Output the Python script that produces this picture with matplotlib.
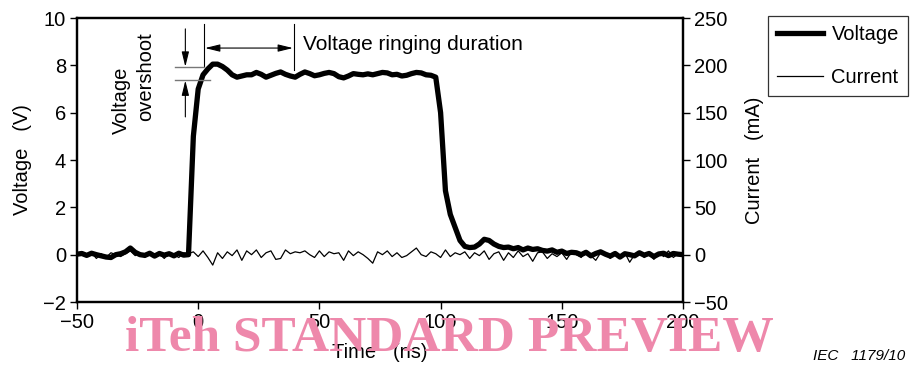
import numpy as np
import matplotlib
matplotlib.use("Agg")
import matplotlib.pyplot as plt

plt.rcParams['font.family'] = ['Liberation Sans', 'DejaVu Sans']

# time axis (ns), 2 ns steps
time_ns = np.arange(-50, 201, 2)

# Voltage (V)
voltage = [
    0.02, 0.05, -0.03, 0.06, 0.0, -0.05, -0.1, -0.12, 0.0, 0.04,      # -50 .. -32
    0.12, 0.28, 0.1, 0.0, -0.03, 0.06, -0.06, 0.05, -0.02, 0.04,      # -30 .. -12
    -0.05, 0.06, -0.02, 0.0, 5.0, 7.0, 7.6, 7.85, 8.05, 8.05,         # -10 .. 8
    7.95, 7.8, 7.6, 7.5, 7.55, 7.6, 7.6, 7.7, 7.62, 7.5,              # 10 .. 28
    7.58, 7.66, 7.72, 7.62, 7.55, 7.5, 7.62, 7.72, 7.65, 7.56,        # 30 .. 48
    7.6, 7.66, 7.7, 7.65, 7.52, 7.47, 7.55, 7.65, 7.62, 7.6,          # 50 .. 68
    7.64, 7.6, 7.65, 7.7, 7.68, 7.6, 7.62, 7.55, 7.58, 7.65,          # 70 .. 88
    7.7, 7.68, 7.6, 7.58, 7.5, 6.0, 2.7, 1.7, 1.15, 0.6,              # 90 .. 108
    0.35, 0.3, 0.32, 0.45, 0.65, 0.6, 0.45, 0.35, 0.3, 0.32,          # 110 .. 128
    0.25, 0.3, 0.2, 0.28, 0.22, 0.25, 0.18, 0.15, 0.2, 0.1,           # 130 .. 148
    0.15, 0.05, 0.1, 0.08, 0.0, 0.1, -0.05, 0.05, 0.12, 0.02,         # 150 .. 168
    -0.06, 0.05, -0.1, 0.04, 0.0, -0.05, 0.08, -0.02, 0.05, -0.08,    # 170 .. 188
    0.03, 0.06, -0.04, 0.05, 0.02, 0.0,                               # 190 .. 200
]

# Current (mA)
current = [
    0, 3, -2, 2, -4, 1, -3, 2, 0, -2,
    1, 4, -1, 2, -3, 3, -2, 1, -4, 2,
    0, -3, 2, 1, 3, -2, 4, -3, -11, 2,
    -4, 3, -1, 5, -6, 4, 0, 5, -3, 2,
    4, -5, -4, 5, 1, 3, 2, 4, 0, -3,
    4, -2, 3, 1, 2, -6, 4, -1, 3, 0,
    -4, -9, 3, 0, 4, -2, 2, -3, -1, 3,
    7, 0, -2, 3, 1, -3, 5, -2, 2, 0,
    3, -4, 2, -1, 4, -5, 1, 3, -6, 2,
    -3, 4, -2, 1, -7, 2, 3, -4, 1, -2,
    2, -5, 3, 0, -3, 4, -1, -6, 2, 1,
    -4, 3, -2, 2, -8, 0, 3, -3, 1, -5,
    2, -2, 4, -3, 1, 0,
]

x_ticks = [-50, 0, 50, 100, 150, 200]
v_ticks = [-2, 0, 2, 4, 6, 8, 10]
i_ticks = [-50, 0, 50, 100, 150, 200, 250]

fig = plt.figure(figsize=(9.17, 3.65), dpi=100)
ax = fig.add_axes([77 / 917, 63 / 365, 606 / 917, 284 / 365])
ax2 = ax.twinx()
ax.set_zorder(ax2.get_zorder() + 1)
ax.patch.set_visible(False)

fs = 14.5
lv, = ax.plot(time_ns, voltage, color='black', lw=3.8, solid_joinstyle='round')
li, = ax2.plot(time_ns, current, color='black', lw=0.9)

ax.set_xlim(-50, 200)
ax.set_ylim(-2, 10)
ax2.set_ylim(-50, 250)
ax.set_xticks(x_ticks)
ax.set_yticks(v_ticks)
ax2.set_yticks(i_ticks)

for a in (ax, ax2):
    for s in a.spines.values():
        s.set_linewidth(1.6)
    a.tick_params(direction='out', length=5, width=1, labelsize=fs, pad=3)

ax.set_xlabel('Time   (ns)', fontsize=fs, labelpad=8)
ax.set_ylabel('Voltage   (V)', fontsize=fs, labelpad=8)
ax2.set_ylabel('Current   (mA)', fontsize=fs, labelpad=12)

# annotations
ax.plot([2.4, 2.4], [9.75, 7.97], color='black', lw=0.8)
ax.plot([39.5, 39.5], [9.75, 7.8], color='black', lw=0.8)
ax.annotate('', xy=(2.8, 8.73), xytext=(39.1, 8.73),
            arrowprops=dict(arrowstyle='<|-|>,head_length=0.9,head_width=0.22',
                            color='black', lw=0.8, shrinkA=0, shrinkB=0))
ax.text(43.2, 8.86, 'Voltage ringing duration', fontsize=15, va='center', ha='left')

ax.plot([-9.6, 2.4], [7.94, 7.94], color='#777777', lw=1.0)
ax.plot([-9.6, 4.9], [7.36, 7.36], color='#777777', lw=1.0)
ax.annotate('', xy=(-5.3, 7.94), xytext=(-5.3, 9.54),
            arrowprops=dict(arrowstyle='-|>,head_length=0.9,head_width=0.22',
                            color='black', lw=0.8, shrinkA=0, shrinkB=0))
ax.annotate('', xy=(-5.3, 7.36), xytext=(-5.3, 5.82),
            arrowprops=dict(arrowstyle='-|>,head_length=0.9,head_width=0.22',
                            color='black', lw=0.8, shrinkA=0, shrinkB=0))
ax.text(-31.8, 6.54, 'Voltage', rotation=90, fontsize=fs, ha='center', va='center')
ax.text(-21.5, 7.51, 'overshoot', rotation=90, fontsize=fs, ha='center', va='center')

leg = fig.legend([lv, li], ['Voltage', 'Current'], loc='upper left',
                 bbox_to_anchor=(768 / 917, 1 - 16 / 365), fontsize=fs,
                 frameon=True, fancybox=False, edgecolor='black',
                 handlelength=2.3, labelspacing=1.2, borderpad=0.45,
                 handletextpad=0.4, borderaxespad=0)
leg.get_frame().set_linewidth(0.9)

fig.text(905 / 917, 1 - 356 / 365, 'IEC   1179/10', fontsize=11, style='italic',
         ha='right', va='center')

fig.text(449 / 917, 1 - 339 / 365, 'iTeh STANDARD PREVIEW', fontsize=37,
         family='Liberation Serif', weight='bold', color='#ee88ab',
         ha='center', va='center', zorder=10)

fig.savefig('out.png', dpi=100)
